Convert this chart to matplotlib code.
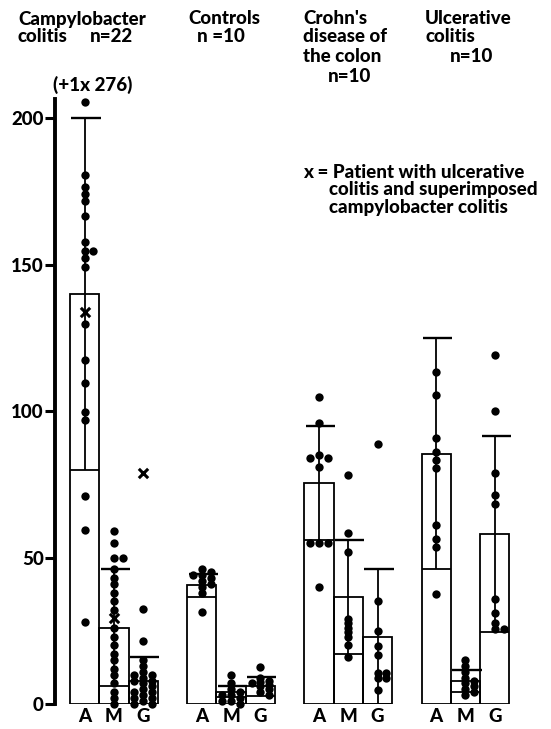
import numpy as np
import matplotlib.pyplot as plt

# groups and immunoglobulin classes
groups = ['Campylobacter colitis', 'Controls', "Crohn's disease of the colon", 'Ulcerative colitis']
classes = ['A', 'M', 'G']

# mean and SD per group (A, M, G)
means = [[140, 26, 8], [40.5, 4.2, 6], [75.5, 36.5, 23], [85.5, 7.8, 58]]
sds = [[60, 20, 8], [4, 1.9, 3.2], [19.5, 19.5, 23], [39.5, 3.8, 33.5]]

# individual values (dots)
campy_a = [205.4, 180.5, 176.6, 174, 171.7, 166.7, 157.8, 154.6, 154.6, 152.3, 149.3,
           129.7, 117.4, 109.4, 99.8, 96.9, 71, 59.4, 28.1]
campy_m = [59, 55, 50, 50, 46, 43, 41, 38, 35, 32, 26, 23, 20, 17, 15, 12, 10, 7, 4, 2, 0]
campy_g = [32.5, 21.5, 15, 13, 11, 10, 10, 9, 8, 8, 7, 6, 5, 4, 4, 3, 2, 2, 1, 0, 0]
ctrl_a = [46, 45, 44, 44, 43, 42, 41, 40, 38, 31.5]
ctrl_m = [10, 7, 5, 4, 3, 3, 2, 1, 1, 0]
ctrl_g = [12.7, 9, 8, 7.5, 7, 6.5, 6, 5, 4, 3]
crohn_a = [104.7, 96, 85, 84, 84, 81, 55, 55, 55, 40]
crohn_m = [78, 58.5, 52, 29, 27.5, 26, 24.5, 23, 20, 16]
crohn_g = [88.6, 35.3, 25, 19.8, 16.7, 10.5, 10.5, 9, 9, 4.8]
uc_a = [113.4, 105.5, 90.7, 86, 83.3, 80.4, 61.1, 56.2, 53.7, 37.5]
uc_m = [15, 13, 11, 9, 8, 7, 6, 5, 4, 3]
uc_g = [119, 100, 79, 71.3, 68.4, 36, 31.2, 27.8, 25.5, 25.5]
dots = [[campy_a, campy_m, campy_g], [ctrl_a, ctrl_m, ctrl_g],
        [crohn_a, crohn_m, crohn_g], [uc_a, uc_m, uc_g]]

# patient with UC + superimposed campylobacter colitis (x markers)
x_vals = [133.9, 29.5, 79]

FONT = ['Lato', 'DejaVu Sans']
plt.rcParams['font.family'] = FONT
plt.rcParams['font.weight'] = 'black'

fig = plt.figure(figsize=(5.51, 7.29), dpi=100)
ax = fig.add_axes([55 / 551, 25 / 729, 496 / 551, 605 / 729])
ax.set_xlim(-0.51, 16.42)
ax.set_ylim(0, 206.5)

lw = 1.3
for g in range(4):
    for c in range(3):
        left = g * 4 + c
        xc = left + 0.5
        m, s = means[g][c], sds[g][c]
        ax.bar(left, m, width=1, align='edge', fill=False, edgecolor='black', linewidth=lw)
        lo = max(m - s, 0)
        ax.vlines(xc, lo, m + s, color='black', linewidth=lw)
        ax.hlines(m + s, left + 0.05, left + 1.05, color='black', linewidth=lw + 0.4)
        ax.hlines(lo, left, left + 1, color='black', linewidth=lw)

        # simple beeswarm: only near-identical values sit side by side
        vals = sorted(dots[g][c], reverse=True)
        placed = []
        xs = []
        for v in vals:
            off = 0.0
            for step in [0, 0.3, -0.3, 0.55, -0.55]:
                if all(abs(v - pv) > 1.0 or abs(step - po) > 0.28 for pv, po in placed):
                    off = step
                    break
            placed.append((v, off))
            xs.append(xc + off)
        ax.scatter(xs, vals, s=36, color='black', zorder=3, clip_on=False, linewidths=0)

# x markers in campylobacter group
ax.scatter([0.5, 1.5, 2.5], x_vals, marker='x', s=45, color='black', linewidths=2.2,
           zorder=4, clip_on=False)

ax.spines[['top', 'right', 'bottom']].set_visible(False)
ax.spines['left'].set_linewidth(2.8)
ax.set_yticks([0, 50, 100, 150, 200])
ax.tick_params(axis='y', length=7, width=2.2, labelsize=13.5, pad=1)
xt = [g * 4 + c + 0.5 for g in range(4) for c in range(3)]
ax.set_xticks(xt)
ax.set_xticklabels(classes * 4, fontsize=13.5, fontweight='black')
ax.tick_params(axis='x', length=0, pad=3)


def ftext(x, y, s, **kw):
    fig.text(x / 551, 1 - y / 729, s, fontsize=13.5, fontweight='black', va='center', **kw)


ftext(18, 19, 'Campylobacter')
ftext(17, 37, 'colitis')
ftext(90, 37, 'n=22')
ftext(188, 19, 'Controls')
ftext(197, 37, 'n =10')
ftext(303, 18, "Crohn's")
ftext(303, 37, 'disease of')
ftext(303, 57, 'the colon')
ftext(328, 77, 'n=10')
ftext(425, 18, 'Ulcerative')
ftext(425, 37, 'colitis')
ftext(450, 57, 'n=10')
ftext(53, 85, '(+1x 276)')
ftext(303, 172, 'x = Patient with ulcerative')
ftext(329, 190, 'colitis and superimposed')
ftext(329, 208, 'campylobacter colitis')

fig.savefig('out.png', dpi=100)
